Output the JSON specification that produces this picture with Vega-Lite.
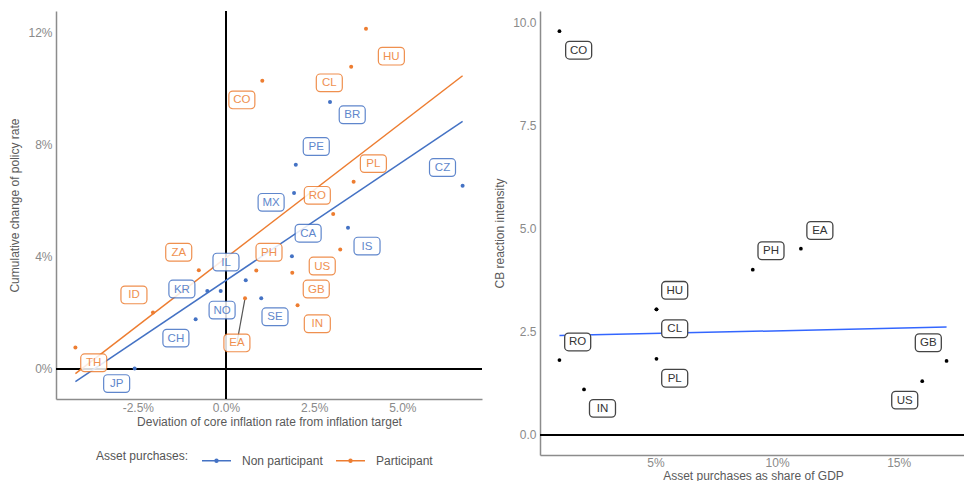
{
  "$schema": "https://vega.github.io/schema/vega-lite/v6.json",
  "background": "white",
  "padding": {"left": 8, "top": 10, "right": 0, "bottom": 0},
  "datasets": {
    "left": [
      {"country": "BR", "group": "Non participant", "x": 2.95, "y": 9.51, "lx": 3.58, "ly": 9.05},
      {"country": "PE", "group": "Non participant", "x": 1.98, "y": 7.27, "lx": 2.56, "ly": 7.92},
      {"country": "CZ", "group": "Non participant", "x": 6.71, "y": 6.52, "lx": 6.14, "ly": 7.17},
      {"country": "MX", "group": "Non participant", "x": 1.93, "y": 6.26, "lx": 1.28, "ly": 5.93},
      {"country": "IS", "group": "Non participant", "x": 3.46, "y": 5.02, "lx": 4.0, "ly": 4.37},
      {"country": "CA", "group": "Non participant", "x": 1.87, "y": 4.01, "lx": 2.33, "ly": 4.83},
      {"country": "IL", "group": "Non participant", "x": 0.56, "y": 3.15, "lx": 0.0, "ly": 3.8},
      {"country": "NO", "group": "Non participant", "x": -0.15, "y": 2.77, "lx": -0.11, "ly": 2.09},
      {"country": "SE", "group": "Non participant", "x": 1.0, "y": 2.51, "lx": 1.39, "ly": 1.85},
      {"country": "KR", "group": "Non participant", "x": -0.53, "y": 2.77, "lx": -1.25, "ly": 2.84},
      {"country": "CH", "group": "Non participant", "x": -0.86, "y": 1.76, "lx": -1.42, "ly": 1.09},
      {"country": "JP", "group": "Non participant", "x": -2.59, "y": 0.01, "lx": -3.1, "ly": -0.53},
      {"country": "HU", "group": "Participant", "x": 3.97, "y": 12.12, "lx": 4.69, "ly": 11.14},
      {"country": "CL", "group": "Participant", "x": 3.55, "y": 10.76, "lx": 2.93, "ly": 10.19},
      {"country": "CO", "group": "Participant", "x": 1.03, "y": 10.26, "lx": 0.45, "ly": 9.58},
      {"country": "PL", "group": "Participant", "x": 3.62, "y": 6.66, "lx": 4.18, "ly": 7.31},
      {"country": "RO", "group": "Participant", "x": 3.04, "y": 5.51, "lx": 2.59, "ly": 6.18},
      {"country": "US", "group": "Participant", "x": 3.24, "y": 4.25, "lx": 2.73, "ly": 3.66},
      {"country": "PH", "group": "Participant", "x": 0.86, "y": 3.5, "lx": 1.22, "ly": 4.15},
      {"country": "GB", "group": "Participant", "x": 1.88, "y": 3.42, "lx": 2.56, "ly": 2.84},
      {"country": "EA", "group": "Participant", "x": 0.54, "y": 2.51, "lx": 0.31, "ly": 0.92},
      {"country": "IN", "group": "Participant", "x": 2.03, "y": 2.26, "lx": 2.59, "ly": 1.6},
      {"country": "ZA", "group": "Participant", "x": -0.77, "y": 3.51, "lx": -1.34, "ly": 4.15},
      {"country": "ID", "group": "Participant", "x": -2.07, "y": 2.0, "lx": -2.61, "ly": 2.63},
      {"country": "TH", "group": "Participant", "x": -4.27, "y": 0.76, "lx": -3.75, "ly": 0.21}
    ],
    "right": [
      {"country": "CO", "share": 1.05, "intensity": 9.78, "lx": 1.84, "ly": 9.32},
      {"country": "RO", "share": 1.05, "intensity": 1.81, "lx": 1.8, "ly": 2.25},
      {"country": "IN", "share": 2.06, "intensity": 1.1, "lx": 2.82, "ly": 0.64},
      {"country": "HU", "share": 5.04, "intensity": 3.04, "lx": 5.79, "ly": 3.5},
      {"country": "CL", "share": 5.04, "intensity": 3.04, "lx": 5.79, "ly": 2.57},
      {"country": "PL", "share": 5.04, "intensity": 1.84, "lx": 5.79, "ly": 1.37},
      {"country": "PH", "share": 9.0, "intensity": 4.0, "lx": 9.75, "ly": 4.46},
      {"country": "EA", "share": 10.98, "intensity": 4.51, "lx": 11.76, "ly": 4.95},
      {"country": "GB", "share": 16.97, "intensity": 1.79, "lx": 16.22, "ly": 2.23},
      {"country": "US", "share": 15.97, "intensity": 1.3, "lx": 15.25, "ly": 0.84}
    ]
  },
  "config": {
    "font": "Liberation Sans",
    "view": {"stroke": null},
    "concat": {"spacing": 10},
    "axis": {
      "grid": false,
      "ticks": false,
      "domainColor": "#8c8c8c",
      "domainWidth": 1.5,
      "labelColor": "#8a8a8a",
      "labelFontSize": 12,
      "labelFont": "Liberation Sans",
      "titleFont": "Liberation Sans",
      "titleColor": "#5a5a5a",
      "titleFontSize": 12,
      "titleFontWeight": "normal",
      "labelPadding": 4,
      "titlePadding": 4
    },
    "legend": {
      "labelFont": "Liberation Sans",
      "titleFont": "Liberation Sans"
    }
  },
  "hconcat": [
    {
      "width": 426,
      "height": 388,
      "data": {"name": "left"},
      "layer": [
        {
          "mark": {"type": "rule", "color": "black", "strokeWidth": 1.3},
          "encoding": {
            "y": {"datum": 0, "type": "quantitative", "scale": {"domain": [-1.08, 12.75], "nice": false, "zero": false},
              "axis": {"values": [0, 4, 8, 12], "labelExpr": "datum.value + '%'", "title": "Cumulative change of policy rate", "titlePadding": 6}}
          }
        },
        {
          "mark": {"type": "rule", "color": "black", "strokeWidth": 1.3},
          "encoding": {
            "x": {"datum": 0, "type": "quantitative", "scale": {"domain": [-4.82, 7.26], "nice": false, "zero": false},
              "axis": {"values": [-2.5, 0, 2.5, 5], "labelExpr": "replace(format(datum.value, '.1f'), '\u2212', '-') + '%'", "title": "Deviation of core inflation rate from inflation target", "labelPadding": 3, "titlePadding": 3}}
          }
        },
        {
          "transform": [{"regression": "y", "on": "x", "groupby": ["group"], "extent": [-4.27, 6.71]}],
          "mark": {"type": "line", "strokeWidth": 1.5},
          "encoding": {
            "x": {"field": "x", "type": "quantitative", "scale": {"domain": [-4.82, 7.26], "nice": false, "zero": false}},
            "y": {"field": "y", "type": "quantitative", "scale": {"domain": [-1.08, 12.75], "nice": false, "zero": false}},
            "color": {
              "field": "group", "type": "nominal",
              "scale": {"domain": ["Non participant", "Participant"], "range": ["#4472C4", "#ED7D31"]},
              "legend": {
                "title": "Asset purchases:",
                "orient": "none", "legendX": 40, "legendY": 434,
                "direction": "horizontal", "titleOrient": "left",
                "titleFontWeight": "normal", "titleFontSize": 12, "titleColor": "#555555",
                "labelFontSize": 12, "labelColor": "#555555",
                "symbolType": "M-1,0L1,0M0.1,0A0.1,0.1,0,1,1,-0.1,0A0.1,0.1,0,1,1,0.1,0Z",
                "symbolSize": 841, "symbolStrokeWidth": 1.5,
                "titlePadding": 12, "columnPadding": 10, "labelOffset": 10
              }
            }
          }
        },
        {
          "transform": [{"filter": "datum.country === 'EA'"}],
          "mark": {"type": "rule", "color": "#555555", "strokeWidth": 1.2},
          "encoding": {
            "x": {"field": "x", "type": "quantitative"},
            "y": {"field": "y", "type": "quantitative"},
            "x2": {"field": "lx"},
            "y2": {"field": "ly"}
          }
        },
        {
          "mark": {"type": "circle", "size": 16, "opacity": 1},
          "encoding": {
            "x": {"field": "x", "type": "quantitative"},
            "y": {"field": "y", "type": "quantitative"},
            "color": {"field": "group", "type": "nominal", "legend": {
                "title": "Asset purchases:",
                "orient": "none", "legendX": 40, "legendY": 434,
                "direction": "horizontal", "titleOrient": "left",
                "titleFontWeight": "normal", "titleFontSize": 12, "titleColor": "#555555",
                "labelFontSize": 12, "labelColor": "#555555",
                "symbolType": "M-1,0L1,0M0.1,0A0.1,0.1,0,1,1,-0.1,0A0.1,0.1,0,1,1,0.1,0Z",
                "symbolSize": 841, "symbolStrokeWidth": 1.5,
                "titlePadding": 12, "columnPadding": 10, "labelOffset": 10
              }}
          }
        },
        {
          "mark": {"type": "point", "filled": false, "fill": "white", "fillOpacity": 1, "opacity": 0.85, "strokeWidth": 1.2, "size": 676,
            "shape": "M-0.7,-0.68H0.7A0.3,0.3,0,0,1,1,-0.38V0.38A0.3,0.3,0,0,1,0.7,0.68H-0.7A0.3,0.3,0,0,1,-1,0.38V-0.38A0.3,0.3,0,0,1,-0.7,-0.68Z"},
          "encoding": {
            "x": {"field": "lx", "type": "quantitative"},
            "y": {"field": "ly", "type": "quantitative"},
            "color": {"field": "group", "type": "nominal", "legend": null}
          }
        },
        {
          "mark": {"type": "text", "fontSize": 11.5, "opacity": 0.85, "baseline": "middle", "align": "center", "dy": 0.5},
          "encoding": {
            "x": {"field": "lx", "type": "quantitative"},
            "y": {"field": "ly", "type": "quantitative"},
            "text": {"field": "country"},
            "color": {"field": "group", "type": "nominal", "legend": null}
          }
        }
      ]
    },
    {
      "width": 426,
      "height": 444,
      "data": {"name": "right"},
      "layer": [
        {
          "mark": {"type": "rule", "color": "black", "strokeWidth": 1.3},
          "encoding": {
            "y": {"datum": 0, "type": "quantitative", "scale": {"domain": [-0.49, 10.27], "nice": false, "zero": false},
              "axis": {"values": [0, 2.5, 5, 7.5, 10], "format": ".1f", "title": "CB reaction intensity", "titlePadding": 6}}
          }
        },
        {
          "transform": [{"filter": "datum.country !== 'CO'"}, {"regression": "intensity", "on": "share"}],
          "mark": {"type": "line", "color": "#3366FF", "strokeWidth": 1.5},
          "encoding": {
            "x": {"field": "share", "type": "quantitative", "scale": {"domain": [0.25, 17.77], "nice": false, "zero": false},
              "axis": {"values": [5, 10, 15], "labelExpr": "datum.value + '%'", "title": "Asset purchases as share of GDP", "labelPadding": 2, "titlePadding": 2}},
            "y": {"field": "intensity", "type": "quantitative"}
          }
        },
        {
          "mark": {"type": "circle", "size": 14, "color": "black", "opacity": 1},
          "encoding": {
            "x": {"field": "share", "type": "quantitative"},
            "y": {"field": "intensity", "type": "quantitative"}
          }
        },
        {
          "mark": {"type": "point", "filled": false, "fill": "white", "fillOpacity": 1, "stroke": "#444444", "strokeWidth": 1.3, "opacity": 1, "size": 676,
            "shape": "M-0.7,-0.68H0.7A0.3,0.3,0,0,1,1,-0.38V0.38A0.3,0.3,0,0,1,0.7,0.68H-0.7A0.3,0.3,0,0,1,-1,0.38V-0.38A0.3,0.3,0,0,1,-0.7,-0.68Z"},
          "encoding": {
            "x": {"field": "lx", "type": "quantitative"},
            "y": {"field": "ly", "type": "quantitative"}
          }
        },
        {
          "mark": {"type": "text", "fontSize": 11.5, "color": "#333333", "baseline": "middle", "align": "center", "dy": 0.5},
          "encoding": {
            "x": {"field": "lx", "type": "quantitative"},
            "y": {"field": "ly", "type": "quantitative"},
            "text": {"field": "country"}
          }
        }
      ]
    }
  ]
}
